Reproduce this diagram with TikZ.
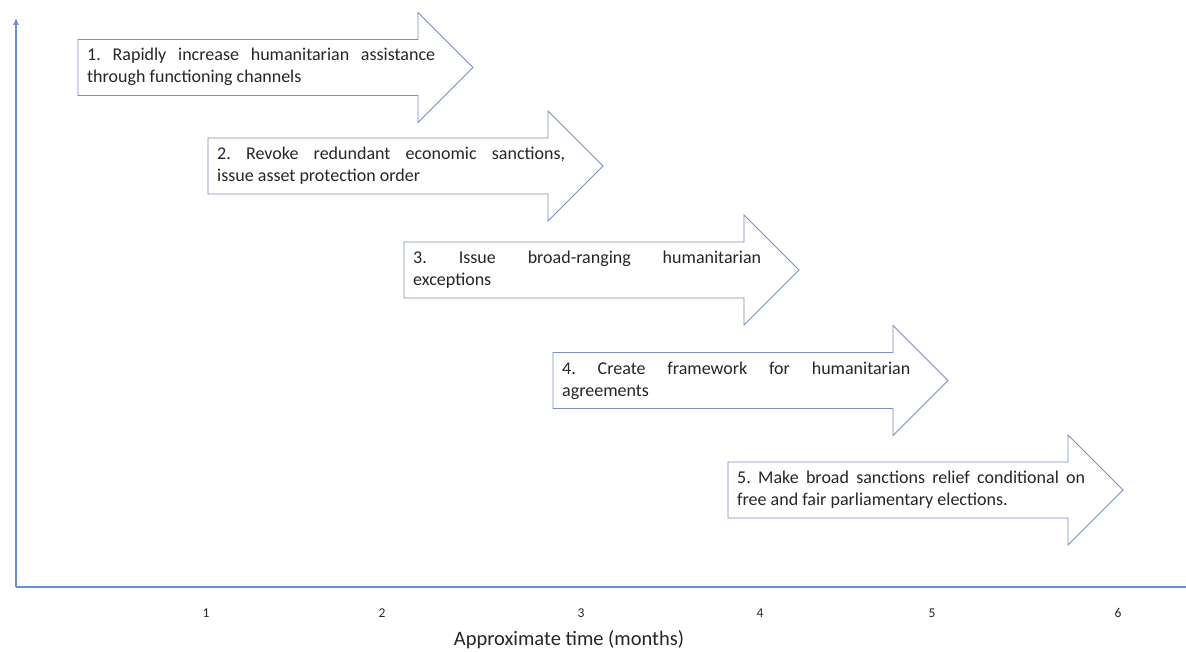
\documentclass[tikz,border=0pt]{standalone}
\usepackage{fontspec}
\setmainfont{Carlito}
\usetikzlibrary{arrows.meta}
\definecolor{arrowline}{HTML}{7A90C0}
\definecolor{axisline}{HTML}{6A8FD6}
\definecolor{txt}{HTML}{262626}
\hyphenpenalty=10000
\exhyphenpenalty=10000
\frenchspacing
\begin{document}
\begin{tikzpicture}[x=1pt,y=-1pt,
  bigarrow/.style={draw=arrowline, line width=0.8pt, fill=white, line join=miter},
  arrowtext/.style={anchor=base west, inner sep=0pt, text width=348pt, align=justify,
    text=txt, font=\fontsize{18pt}{22pt}\selectfont},
  axis/.style={draw=axisline, line width=1.1pt},
  ticklabel/.style={text=txt, font=\fontsize{13.5pt}{16pt}\selectfont, inner sep=0pt},
  axistitle/.style={text=txt, font=\fontsize{20.5pt}{24pt}\selectfont, inner sep=0pt}]
\useasboundingbox (0,0) rectangle (1186,652);
\fill[white] (0,0) rectangle (1186,652);
% axes
\coordinate (o) at (16,587);
\coordinate (ytop) at (16,18);
\coordinate (xend) at (1186,587);
\draw[axis, -{Latex[length=7pt,width=6pt]}] (o) -- (ytop);
\draw[axis] (o) -- (xend);
% arrows: L = left, Y = centre line
\foreach \L/\Y in {78/67.5, 208/166, 404/270, 553/380.5, 728/490}{
  \draw[bigarrow] (\L,\Y-28) -- (\L+340,\Y-28) -- (\L+340,\Y-55) -- (\L+395,\Y)
     -- (\L+340,\Y+55) -- (\L+340,\Y+28) -- (\L,\Y+28) -- cycle;
}
\node[arrowtext] (t1) at (87,61) {1. Rapidly increase humanitarian assistance\linebreak through functioning channels};
\node[arrowtext] (t2) at (217,159.5) {2. Revoke redundant economic sanctions,\linebreak issue asset protection order};
\node[arrowtext] (t3) at (413,263.5) {3. Issue broad-ranging humanitarian\linebreak exceptions};
\node[arrowtext] (t4) at (562,374) {4. Create framework for humanitarian\linebreak agreements};
\node[arrowtext] (t5) at (737,483.5) {5. Make broad sanctions relief conditional on\linebreak free and fair parliamentary elections.};
% tick labels
\node[ticklabel] (m1) at (206,613) {1};
\node[ticklabel] (m2) at (382,613) {2};
\node[ticklabel] (m3) at (581,613) {3};
\node[ticklabel] (m4) at (760,613) {4};
\node[ticklabel] (m5) at (932,613) {5};
\node[ticklabel] (m6) at (1118,613) {6};
\node[axistitle] (title) at (569,640) {Approximate time (months)};
\end{tikzpicture}
\end{document}
